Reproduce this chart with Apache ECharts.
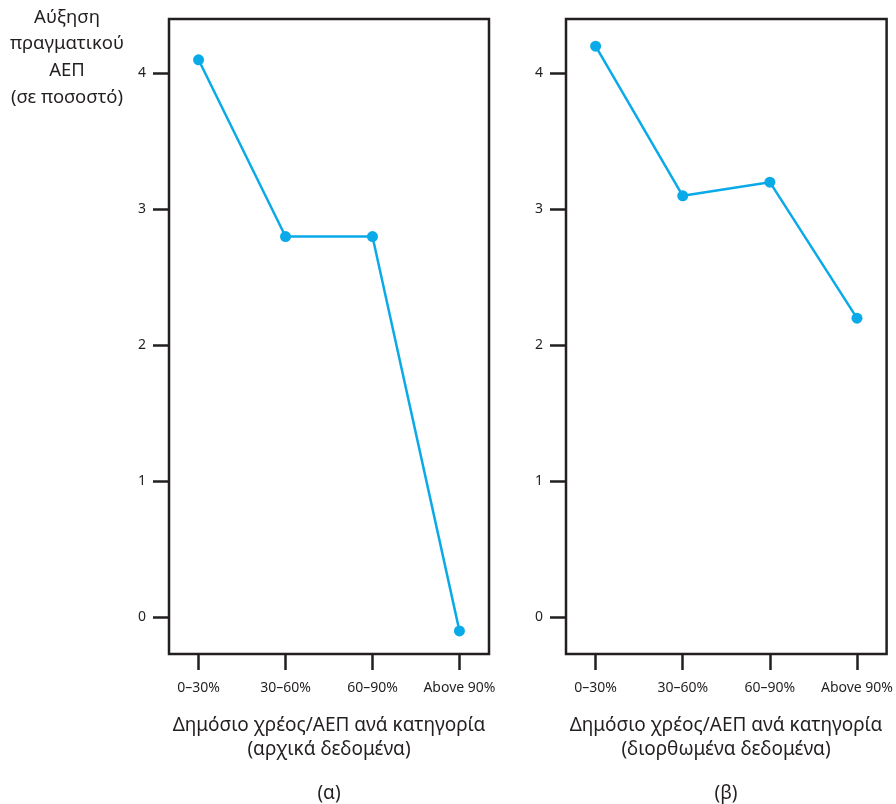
<!DOCTYPE html>
<html>
<head>
    <meta charset="utf-8">
    <script src="https://cdn.jsdelivr.net/npm/echarts@6/dist/echarts.min.js"></script>
    <style>
        html, body { margin: 0; padding: 0; background: #fff; }
    </style>
</head>
<body>
<div id="main" style="width: 896px;height:804px;"></div>
<script type="text/javascript">
    // data
    var categories = ['0–30%', '30–60%', '60–90%', 'Above 90%'];
    var originalGrowth = [4.1, 2.8, 2.8, -0.1];
    var correctedGrowth = [4.2, 3.1, 3.2, 2.2];
    var yTicks = [0, 1, 2, 3, 4];
    var xTicks = [0, 1, 2, 3];

    var font = '"Noto Sans", "Open Sans", sans-serif';
    var ink = '#231f20';
    var lineColor = '#0aaae8';

    function pairs(vals) {
        let out = [];
        for (let i = 0; i < vals.length; i++) {
            out.push([i, vals[i]]);
        }
        return out;
    }

    function xAxisFor(idx) {
        return {
            type: 'value', gridIndex: idx, position: 'bottom', min: -0.34, max: 3.34,
            axisLine: { show: false, onZero: false },
            axisTick: { show: true, length: 16, lineStyle: { color: ink, width: 2.5 }, customValues: xTicks },
            axisLabel: {
                margin: 27, fontSize: 14, color: ink, fontFamily: font,
                customValues: xTicks,
                formatter: function (v) { return categories[Math.round(v)]; }
            },
            splitLine: { show: false }
        };
    }

    function yAxisFor(idx) {
        return {
            type: 'value', gridIndex: idx, position: 'left', min: -0.27, max: 4.4,
            axisLine: { show: false, onZero: false },
            axisTick: { show: true, length: 16, lineStyle: { color: ink, width: 2.5 }, customValues: yTicks },
            axisLabel: { margin: 23, fontSize: 14, color: ink, fontFamily: font, customValues: yTicks },
            splitLine: { show: false }
        };
    }

    function seriesFor(idx, vals) {
        return {
            type: 'line', xAxisIndex: idx, yAxisIndex: idx,
            data: pairs(vals),
            symbol: 'circle', symbolSize: 11,
            itemStyle: { color: lineColor },
            lineStyle: { color: lineColor, width: 2.5 },
            animation: false
        };
    }

    var myChart = echarts.init(document.getElementById('main'));
    myChart.setOption({
        backgroundColor: '#fff',
        grid: [
            { left: 169, top: 19, width: 320, height: 635, show: true, borderColor: ink, borderWidth: 2.5, backgroundColor: 'transparent' },
            { left: 566, top: 19, width: 321, height: 635, show: true, borderColor: ink, borderWidth: 2.5, backgroundColor: 'transparent' }
        ],
        xAxis: [xAxisFor(0), xAxisFor(1)],
        yAxis: [yAxisFor(0), yAxisFor(1)],
        series: [seriesFor(0, originalGrowth), seriesFor(1, correctedGrowth)],
        graphic: [
            {
                type: 'text',
                style: {
                    text: 'Αύξηση\nπραγματικού\nΑΕΠ\n(σε ποσοστό)',
                    x: 67, y: 4, textAlign: 'center', lineHeight: 26.7,
                    font: '18.5px ' + font, fill: ink
                }
            },
            {
                type: 'text',
                style: {
                    text: 'Δημόσιο χρέος/ΑΕΠ ανά κατηγορία\n(αρχικά δεδομένα)',
                    x: 329, y: 714, textAlign: 'center', lineHeight: 24,
                    font: '19px ' + font, fill: ink
                }
            },
            {
                type: 'text',
                style: {
                    text: 'Δημόσιο χρέος/ΑΕΠ ανά κατηγορία\n(διορθωμένα δεδομένα)',
                    x: 726, y: 714, textAlign: 'center', lineHeight: 24,
                    font: '19px ' + font, fill: ink
                }
            },
            {
                type: 'text',
                style: { text: '(α)', x: 329, y: 784, textAlign: 'center', font: '19px ' + font, fill: ink }
            },
            {
                type: 'text',
                style: { text: '(β)', x: 726, y: 784, textAlign: 'center', font: '19px ' + font, fill: ink }
            }
        ]
    });
</script>
</body>
</html>
